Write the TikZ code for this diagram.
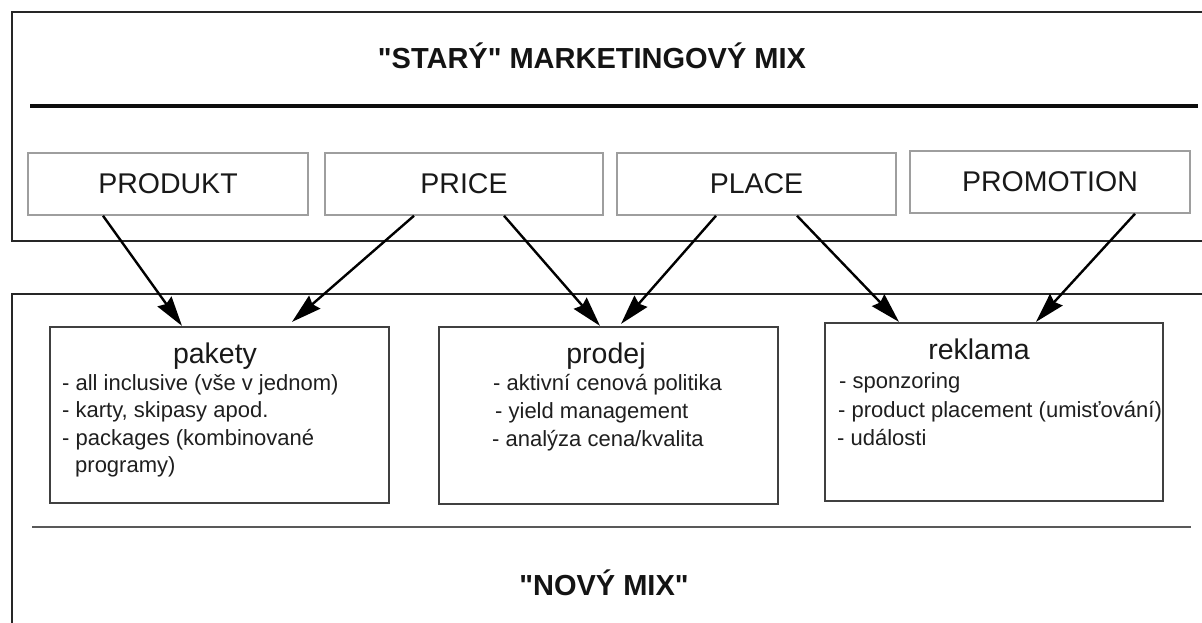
\documentclass[tikz,border=0pt]{standalone}
\usepackage{fontspec}
\setmainfont[Ligatures=TeXOff]{Liberation Sans}
\usetikzlibrary{arrows.meta}
\begin{document}
\begin{tikzpicture}[x=1pt,y=-1pt,
  frame/.style={line width=2.6pt, draw=black!85},
  smallbox/.style={draw=black!38, line width=1.5pt, fill=white, minimum width=#1, minimum height=62pt, inner sep=0pt, font=\fontsize{28.5}{34}\selectfont, text=black!90},
  bigbox/.style={draw=black!75, line width=2.2pt, fill=white, minimum width=#1, inner sep=0pt},
  head/.style={anchor=base, inner sep=0pt, font=\fontsize{28.5}{34}\selectfont, text=black!90},
  item/.style={anchor=base west, inner sep=0pt, font=\fontsize{22}{28}\selectfont, text=black!88},
  title/.style={inner sep=0pt, font=\bfseries\fontsize{29}{35}\selectfont, text=black!92},
  conn/.style={line width=2.4pt, draw=black, -{Stealth[length=30pt,width=17pt,inset=3pt]}}
]
\useasboundingbox (0,0) rectangle (1202,622);
\clip (0,0) rectangle (1202,622);
\fill[white] (0,0) rectangle (1202,622);

% outer frames
\draw[frame] (1215,12) -- (12,12) -- (12,241) -- (1215,241);
\draw[frame] (1215,294) -- (12,294) -- (12,640);
\draw[line width=3.5pt, draw=black!95] (30,106) -- (1198,106);
\draw[line width=2pt, draw=black!65] (32,527) -- (1191,527);

\node[title] (oldtitle) at (592,56) {"STARÝ" MARKETINGOVÝ MIX};
\node[title] (newtitle) at (604,583) {"NOVÝ MIX"};

% old mix boxes
\node[smallbox=280pt] (produkt) at (168,184) {PRODUKT};
\node[smallbox=278pt] (price) at (464,184) {PRICE};
\node[smallbox=279pt] (place) at (756.5,184) {PLACE};
\node[smallbox=280pt] (promotion) at (1050,182) {PROMOTION};

% new mix boxes
\node[bigbox=339pt, minimum height=176pt] (pakety) at (219.5,415) {};
\node[bigbox=339pt, minimum height=177pt] (prodej) at (608.5,415.5) {};
\node[bigbox=338pt, minimum height=178pt] (reklama) at (994,412) {};

\node[head] (paketyh) at (215,363) {pakety};
\node[item] (p1) at (62,390) {- all inclusive (vše v jednom)};
\node[item] (p2) at (62,417) {- karty, skipasy apod.};
\node[item] (p3) at (62,445) {- packages (kombinované};
\node[item] (p4) at (75,472) {programy)};

\node[head] (prodejh) at (606,363) {prodej};
\node[item] (d1) at (493,390) {- aktivní cenová politika};
\node[item] (d2) at (495,418) {- yield management};
\node[item] (d3) at (492,446) {- analýza cena/kvalita};

\node[head] (reklamah) at (979,359) {reklama};
\node[item] (r1) at (839,388) {- sponzoring};
\node[item] (r2) at (838,417) {- product placement (umisťování)};
\node[item] (r3) at (837,445) {- události};

% connectors
\draw[conn] ([xshift=-65pt]produkt.south) -- ([xshift=-37.5pt]pakety.north);
\draw[conn] ([xshift=-50pt]price.south) -- ([xshift=72.5pt,yshift=4pt]pakety.north);
\draw[conn] ([xshift=40pt]price.south) -- ([xshift=-8.5pt]prodej.north);
\draw[conn] ([xshift=-40.5pt]place.south) -- ([xshift=12.5pt,yshift=2pt]prodej.north);
\draw[conn] ([xshift=40.5pt]place.south) -- ([xshift=-95pt]reklama.north);
\draw[conn] ([xshift=85pt]promotion.south) -- ([xshift=42pt]reklama.north);
\end{tikzpicture}
\end{document}
